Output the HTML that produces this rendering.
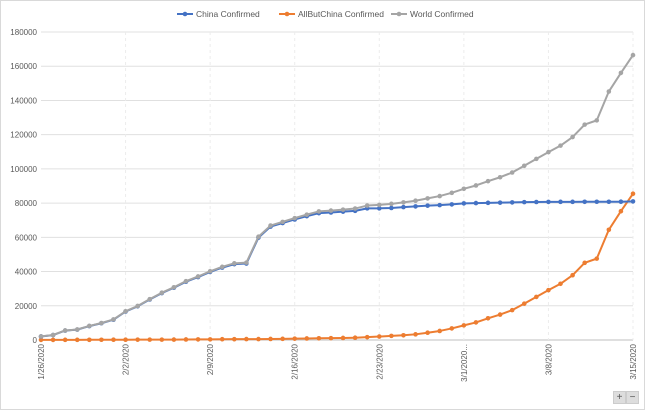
<!DOCTYPE html>
<html><head><meta charset="utf-8"><style>
body{margin:0;background:#fff;font-family:"Liberation Sans",sans-serif;}
#wrap{position:relative;width:643px;height:408px;border:1px solid #d9d9d9;background:#fff;}
svg text{font-family:"Liberation Sans",sans-serif;}
.btn{position:absolute;top:390px;width:11px;height:11px;background:#ddd;color:#555;font-size:10px;line-height:11px;text-align:center;border:1px solid #ccc;}
</style></head><body>
<div id="wrap">
<svg id="chart" width="643" height="408"></svg>
<div class="btn" style="left:612px">+</div>
<div class="btn" style="left:625px">−</div>
</div>
<script>
const dates=["1/26/2020","1/27/2020","1/28/2020","1/29/2020","1/30/2020","1/31/2020","2/1/2020","2/2/2020","2/3/2020","2/4/2020","2/5/2020","2/6/2020","2/7/2020","2/8/2020","2/9/2020","2/10/2020","2/11/2020","2/12/2020","2/13/2020","2/14/2020","2/15/2020","2/16/2020","2/17/2020","2/18/2020","2/19/2020","2/20/2020","2/21/2020","2/22/2020","2/23/2020","2/24/2020","2/25/2020","2/26/2020","2/27/2020","2/28/2020","2/29/2020","3/1/2020","3/2/2020","3/3/2020","3/4/2020","3/5/2020","3/6/2020","3/7/2020","3/8/2020","3/9/2020","3/10/2020","3/11/2020","3/12/2020","3/13/2020","3/14/2020","3/15/2020"];
const xLabels=["1/26/2020","2/2/2020","2/9/2020","2/16/2020","2/23/2020","3/1/2020...","3/8/2020","3/15/2020"];
const yTicks=[0,20000,40000,60000,80000,100000,120000,140000,160000,180000];
const china=[2062,2863,5494,6070,8124,9783,11871,16607,19693,23680,27409,30553,34075,36778,39790,42306,44327,44699,59832,66292,68347,70446,72364,74139,74546,74999,75472,76922,76938,77152,77660,78065,78498,78824,79251,79826,80026,80151,80271,80422,80573,80652,80699,80735,80757,80785,80793,80801,80827,81000];
const allButChina=[56,64,84,96,110,144,167,180,188,212,226,241,316,342,360,456,475,522,536,593,683,778,894,997,1093,1198,1347,1650,2020,2409,2746,3323,4248,5288,6760,8543,10280,12689,14849,17464,21228,25195,29122,32855,37863,45090,47559,64404,75274,85500];
const world=[2118,2927,5578,6166,8234,9927,12038,16787,19881,23892,27635,30794,34391,37120,40150,42762,44802,45221,60368,66885,69030,71224,73258,75136,75639,76197,76819,78572,78958,79561,80406,81388,82746,84112,86011,88369,90306,92840,95120,97886,101801,105847,109821,113590,118620,125875,128352,145205,156101,166500];
const NS="http://www.w3.org/2000/svg";
const svg=document.getElementById('chart');
const X0=40,X1=632,Y0=339,Y1=31,YMAX=180000;
function xs(i){return X0+(X1-X0)*i/(dates.length-1);}
function ys(v){return Y0-(Y0-Y1)*v/YMAX;}
function mk(t,a){const e=document.createElementNS(NS,t);for(const k in a)e.setAttribute(k,a[k]);svg.appendChild(e);return e;}
yTicks.forEach(v=>{
 const l=mk('line',{x1:X0,x2:X1,y1:ys(v),y2:ys(v),stroke:v===0?'#bfbfbf':'#e0e0e0','stroke-width':1});
 
 
 const t=mk('text',{x:36,y:ys(v)+3,'text-anchor':'end','font-size':8,fill:'#595959'});
 t.textContent=v;
 
 
});
xLabels.forEach((lab,k)=>{
 const x=xs(k*7);
 if(k>0){const l=mk('line',{x1:x,x2:x,y1:Y1,y2:Y0,stroke:'#ececec','stroke-dasharray':'3,3'});
 
 }
 const t=mk('text',{x:0,y:0,'text-anchor':'end','font-size':8,fill:'#595959',transform:`translate(${x+3},${Y0+4}) rotate(-90)`});
 t.textContent=lab;
 
 
});
function series(arr,color,name){
 const p=mk('polyline',{points:arr.map((v,i)=>xs(i)+','+ys(v)).join(' '),fill:'none',stroke:color,'stroke-width':2,'stroke-linejoin':'round'});
 
 
 arr.forEach((v,i)=>{const c=mk('circle',{cx:xs(i),cy:ys(v),r:2.3,fill:color});
 
 });
}
series(allButChina,'#ed7d31','allbutchina');
series(china,'#4472c4','china');
series(world,'#a5a5a5','world');
const leg=[["China Confirmed",'#4472c4',176],["AllButChina Confirmed",'#ed7d31',278],["World Confirmed",'#a5a5a5',390]];
leg.forEach(([n,c,x])=>{
 const g=document.createElementNS(NS,'g');svg.appendChild(g);
 
 
 const l=document.createElementNS(NS,'line');l.setAttribute('x1',x);l.setAttribute('x2',x+16);l.setAttribute('y1',13);l.setAttribute('y2',13);l.setAttribute('stroke',c);l.setAttribute('stroke-width',2);g.appendChild(l);
 const ci=document.createElementNS(NS,'circle');ci.setAttribute('cx',x+8);ci.setAttribute('cy',13);ci.setAttribute('r',2.3);ci.setAttribute('fill',c);g.appendChild(ci);
 const t=document.createElementNS(NS,'text');t.setAttribute('x',x+19);t.setAttribute('y',16);t.setAttribute('font-size',8.5);t.setAttribute('fill','#595959');t.textContent=n;g.appendChild(t);
});
</script>
</body></html>
